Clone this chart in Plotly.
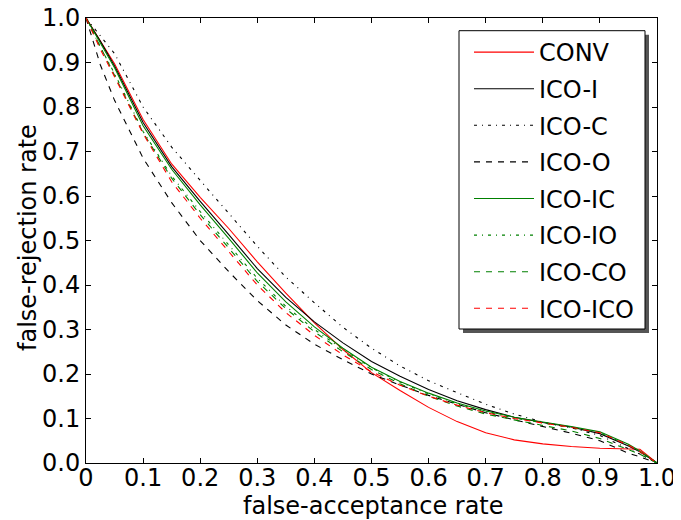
import plotly.graph_objects as go

far = [0.0, 0.025, 0.05, 0.1, 0.15, 0.2, 0.25, 0.3, 0.35, 0.4, 0.45, 0.5, 0.55,
       0.6, 0.65, 0.7, 0.75, 0.8, 0.85, 0.9, 0.95, 0.97, 1.0]

conv = [1.0, 0.95, 0.897, 0.772, 0.672, 0.597, 0.527, 0.452, 0.382, 0.315, 0.255, 0.203, 0.163,
        0.125, 0.093, 0.068, 0.052, 0.043, 0.037, 0.033, 0.032, 0.031, 0.0]
ico_i = [1.0, 0.948, 0.892, 0.765, 0.666, 0.588, 0.513, 0.437, 0.372, 0.317, 0.27, 0.228, 0.195,
         0.165, 0.14, 0.12, 0.103, 0.091, 0.081, 0.066, 0.038, 0.025, 0.0]
ico_c = [1.0, 0.96, 0.92, 0.80, 0.71, 0.635, 0.56, 0.487, 0.418, 0.36, 0.305, 0.258, 0.218,
         0.185, 0.158, 0.132, 0.11, 0.092, 0.079, 0.062, 0.032, 0.02, 0.0]
ico_o = [1.0, 0.895, 0.815, 0.685, 0.585, 0.5, 0.43, 0.365, 0.31, 0.267, 0.232, 0.2, 0.175,
         0.152, 0.132, 0.113, 0.097, 0.082, 0.067, 0.05, 0.022, 0.014, 0.0]
ico_ic = [1.0, 0.945, 0.888, 0.758, 0.66, 0.58, 0.505, 0.427, 0.362, 0.306, 0.258, 0.215, 0.183,
          0.157, 0.135, 0.117, 0.103, 0.092, 0.082, 0.07, 0.042, 0.027, 0.0]
ico_io = [1.0, 0.935, 0.875, 0.745, 0.645, 0.565, 0.49, 0.415, 0.352, 0.3, 0.255, 0.214, 0.182,
          0.155, 0.133, 0.115, 0.101, 0.09, 0.08, 0.068, 0.04, 0.026, 0.0]
ico_co = [1.0, 0.935, 0.872, 0.742, 0.64, 0.558, 0.483, 0.408, 0.347, 0.295, 0.25, 0.21, 0.178,
          0.15, 0.128, 0.11, 0.097, 0.085, 0.072, 0.055, 0.03, 0.02, 0.0]
ico_ico = [1.0, 0.93, 0.868, 0.74, 0.632, 0.55, 0.475, 0.40, 0.338, 0.287, 0.243, 0.205, 0.175,
           0.15, 0.13, 0.113, 0.1, 0.09, 0.08, 0.068, 0.04, 0.026, 0.0]

names = ["CONV", "ICO-I", "ICO-C", "ICO-O", "ICO-IC", "ICO-IO", "ICO-CO", "ICO-ICO"]
series = [conv, ico_i, ico_c, ico_o, ico_ic, ico_io, ico_co, ico_ico]
colors = ["#ff0000", "#000000", "#000000", "#000000", "#008000", "#008000", "#008000", "#ff0000"]
dashes = ["solid", "solid", "3px,5px,1px,5px", "6px,6px", "solid", "3px,5px,1px,5px", "6px,6px", "6px,6px"]

x_ticks = [0, 0.1, 0.2, 0.3, 0.4, 0.5, 0.6, 0.7, 0.8, 0.9, 1.0]
x_tick_labels = ["0", "0.1", "0.2", "0.3", "0.4", "0.5", "0.6", "0.7", "0.8", "0.9", "1.0"]
y_ticks = [0, 0.1, 0.2, 0.3, 0.4, 0.5, 0.6, 0.7, 0.8, 0.9, 1.0]
y_tick_labels = ["0.0", "0.1", "0.2", "0.3", "0.4", "0.5", "0.6", "0.7", "0.8", "0.9", "1.0"]

x_title = "false-acceptance rate"
y_title = "false-rejection rate"

fig = go.Figure()
for n, s, c, d in zip(names, series, colors, dashes):
    fig.add_trace(go.Scatter(x=far, y=s, mode="lines", name=n, legendgroup=n,
                             line=dict(color=c, width=1.1, dash=d)))

font = dict(family="DejaVu Sans", size=24, color="black")

# page has 8px body margin; figure drawn at (8, 8)
OFF = 8
W, H = 681 - OFF, 520 - OFF
# target plot area in page pixels: x 86..657, y 18..463
L, R, T, B = 86, 657, 18, 463

def px(p):
    return (p - L) / float(R - L)

def py(p):
    return (B - p) / float(B - T)

fig.update_layout(
    width=W, height=H,
    margin=dict(l=L - OFF, r=W - (R - OFF), t=T - OFF, b=H - (B - OFF), autoexpand=False),
    paper_bgcolor="white", plot_bgcolor="white",
    font=font,
    showlegend=True,
    legend=dict(
        x=px(469), y=py(30), xanchor="left", yanchor="top",
        bgcolor="rgba(0,0,0,0)", borderwidth=0,
        font=font, tracegroupgap=2.4, itemwidth=60,
    ),
)
# legend frame with shadow
fig.add_shape(type="rect", xref="paper", yref="paper",
              x0=px(463), x1=px(649), y0=py(333), y1=py(34.7),
              fillcolor="#555555", line=dict(width=0), layer="above")
fig.add_shape(type="rect", xref="paper", yref="paper",
              x0=px(459), x1=px(645), y0=py(329), y1=py(30.7),
              fillcolor="white", line=dict(width=1, color="black"), layer="above")

fig.add_annotation(text=x_title, xref="paper", yref="paper", x=px(373), y=py(506),
                   xanchor="center", yanchor="middle", showarrow=False, font=font)
fig.add_annotation(text=y_title, xref="paper", yref="paper", x=px(28), y=py(238),
                   xanchor="center", yanchor="middle", showarrow=False, font=font,
                   textangle=-90)

fig.update_xaxes(range=[0, 1], tickvals=x_ticks, ticktext=x_tick_labels,
                 ticks="inside", ticklen=5, tickcolor="black", tickwidth=1,
                 showline=True, linecolor="black", linewidth=1, mirror="ticks",
                 showgrid=False, zeroline=False, automargin=False, tickfont=font,
                 ticklabeloverflow="allow", ticklabelstandoff=-7)
fig.update_yaxes(range=[0, 1], tickvals=y_ticks, ticktext=y_tick_labels,
                 ticks="inside", ticklen=5, tickcolor="black", tickwidth=1,
                 showline=True, linecolor="black", linewidth=1, mirror="ticks",
                 showgrid=False, zeroline=False, automargin=False, tickfont=font,
                 ticklabeloverflow="allow")

fig.write_html("out.html")
